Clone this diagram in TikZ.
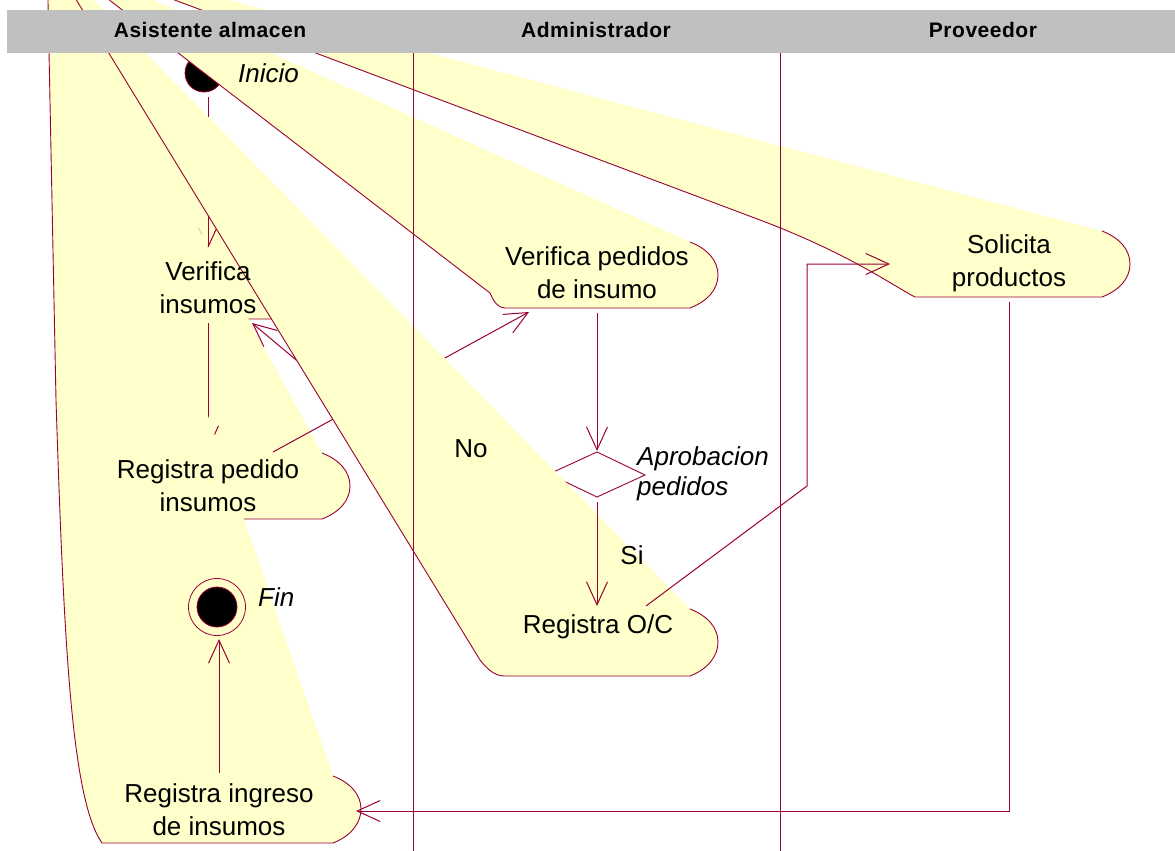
\documentclass[tikz,border=0pt]{standalone}
\usepackage{fontspec}
\setmainfont{Liberation Sans}
\newfontfamily\hdrfont[LetterSpace=2.5]{Liberation Sans}
\usetikzlibrary{arrows.meta}
\definecolor{rose}{HTML}{990033}
\definecolor{actfill}{HTML}{FFFFCC}
\definecolor{hdr}{HTML}{C0C0C0}
\begin{document}
\begin{tikzpicture}[x=1pt,y=-1pt,
  actfillst/.style={fill=actfill,draw=none},
  actline/.style={draw=rose,line width=0.9pt},
  conn/.style={draw=rose,line width=1pt},
  tip/.style={-{Straight Barb[length=23pt,width=21pt]}},
  lane/.style={draw=rose,line width=0.9pt},
  lbl/.style={font=\fontsize{26}{33}\selectfont,inner sep=0pt,anchor=base},
  ilbl/.style={font=\fontsize{26}{30}\selectfont\itshape,inner sep=0pt,anchor=base west},
  hlbl/.style={font=\hdrfont\bfseries\fontsize{21}{24}\selectfont,inner sep=0pt,anchor=base}]
\useasboundingbox (0,0) rectangle (1175,851);
\clip (0,0) rectangle (1175,851);
\coordinate (F) at (47,-48);

% ---- Verifica insumos (VI)
\path[actfillst] (F) -- (322,253) .. controls (340,260) and (350,272) .. (350,286) .. controls (350,300) and (340,312) .. (322,319) -- (94,319) .. controls (86,319) and (82,314) .. (79,308) -- cycle;
\draw[actline] (F) -- (79,308) .. controls (82,314) and (86,319) .. (94,319) -- (322,319) .. controls (340,312) and (350,300) .. (350,286) .. controls (350,272) and (340,260) .. (322,253);

% ---- Registra pedido insumos (RP)
\path[actfillst] (F) -- (322,453) .. controls (340,460) and (350,472) .. (350,486) .. controls (350,500) and (340,512) .. (322,519) -- (94,519) .. controls (86,519) and (82,514) .. (79,508) -- cycle;
\draw[actline] (F) -- (79,508) .. controls (82,514) and (86,519) .. (94,519) -- (322,519) .. controls (340,512) and (350,500) .. (350,486) .. controls (350,472) and (340,460) .. (322,453);

% ---- Inicio
\node[circle,fill=black,draw=rose,line width=0.8pt,minimum size=38pt,inner sep=0pt] (inicio) at (204,73) {};

% ---- Verifica pedidos de insumo (VP)
\path[actfillst] (F) -- (690,242) .. controls (708,249) and (718,261) .. (718,275) .. controls (718,289) and (708,301) .. (690,308) -- (505,308) .. controls (498,308) and (494,302) .. (490,293) -- cycle;
\draw[actline] (F) -- (490,293) .. controls (494,302) and (498,308) .. (505,308) -- (690,308) .. controls (708,301) and (718,289) .. (718,275) .. controls (718,261) and (708,249) .. (690,242);

% ---- connection points
\coordinate (iout) at (208,97);
\coordinate (viin) at (208,247);
\coordinate (viout) at (208,323);
\coordinate (rpin) at (208,450);
\coordinate (rpout) at (273,452);
\coordinate (vpin) at (529,312);
\coordinate (vpout) at (597,313);
\coordinate (decn) at (597,451);
\coordinate (decw) at (549,474);
\coordinate (decs) at (597,502);
\coordinate (nobend) at (332,390);
\coordinate (viback) at (252,323);
\coordinate (roin) at (597,606);
\coordinate (roout) at (646,606);
\coordinate (rob1) at (807,486);
\coordinate (rob2) at (807,264);
\coordinate (sin) at (890,264);
\coordinate (sout) at (1009,302);
\coordinate (sbend) at (1009,811);
\coordinate (riin) at (356,811);
\coordinate (riout) at (219,773);
\coordinate (finin) at (219,639);

% ---- early connectors
\draw[conn] (iout) -- (viin);
\draw[conn] (viin) -- ++(9,-19.5);
\draw[draw=rose!35,line width=0.6pt] (198,227) -- (202,235);
\draw[conn,tip] (viout) -- (rpin);
\draw[conn,tip] (rpout) -- (vpin);
\draw[conn,tip] (vpout) -- (decn);
\draw[conn,tip] (decw) -- (nobend) -- (viback);

% ---- decision
\draw[actline] (597,452) -- (645,475) -- (597,497) -- (549,474) -- cycle;

% ---- Registra O/C (RO)
\path[actfillst] (F) -- (690,609) .. controls (708,616) and (718,628) .. (718,642) .. controls (718,656) and (708,669) .. (690,676) -- (505,676) .. controls (495,676) and (488,670) .. (480,660) -- cycle;
\draw[actline] (F) -- (480,660) .. controls (488,670) and (495,676) .. (505,676) -- (690,676) .. controls (708,669) and (718,656) .. (718,642) .. controls (718,628) and (708,616) .. (690,609);

% ---- Registra ingreso de insumos (RI)
\path[actfillst] (F) -- (333,776) .. controls (351,783) and (361,795) .. (361,809) .. controls (361,823) and (351,836) .. (333,843) -- (102,843) .. controls (72,800) and (64,650) .. (56,400) -- cycle;
\draw[actline] (F) -- (56,400) .. controls (64,650) and (72,800) .. (102,843) -- (333,843) .. controls (351,836) and (361,823) .. (361,809) .. controls (361,795) and (351,783) .. (333,776);

% ---- Solicita productos (S)
\path[actfillst] (F) -- (1102,231) .. controls (1120,238) and (1130,250) .. (1130,264) .. controls (1130,278) and (1120,290) .. (1102,297) -- (915,297) .. controls (895,287) and (850,254) .. (760,220) -- cycle;
\draw[actline] (F) -- (760,220) .. controls (850,254) and (895,287) .. (915,297) -- (1102,297) .. controls (1120,290) and (1130,278) .. (1130,264) .. controls (1130,250) and (1120,238) .. (1102,231);

% ---- late connectors
\draw[conn,tip] (decs) -- (roin);
\draw[conn,tip] (roout) -- (rob1) -- (rob2) -- (sin);
\draw[conn,tip] (sout) -- (sbend) -- (riin);
\draw[conn,tip] (riout) -- (finin);

% ---- Fin
\node[circle,draw=rose,line width=0.8pt,minimum size=57pt,inner sep=0pt] (fin) at (217,607) {};
\node[circle,fill=black,draw=rose,line width=0.8pt,minimum size=40pt,inner sep=0pt] (fincore) at (217,607) {};

% ---- lanes and header
\draw[lane] (413,53) -- (413,851);
\draw[lane] (780,53) -- (780,851);
\fill[hdr] (7,10) rectangle (1175,53);
\node[hlbl] (h1) at (210,38) {Asistente almacen};
\node[hlbl] (h2) at (596,38) {Administrador};
\node[hlbl] (h3) at (983,38) {Proveedor};

% ---- texts
\node[lbl] (vitext) at (208,280) {\begin{tabular}[t]{@{}c@{}}Verifica\\insumos\end{tabular}};
\node[lbl] (rptext) at (208,478) {\begin{tabular}[t]{@{}c@{}}Registra pedido\\insumos\end{tabular}};
\node[lbl] (vptext) at (597,265) {\begin{tabular}[t]{@{}c@{}}Verifica pedidos\\de insumo\end{tabular}};
\node[lbl] (stext) at (1009,253) {\begin{tabular}[t]{@{}c@{}}Solicita\\productos\end{tabular}};
\node[lbl] (rotext) at (598,633) {Registra O/C};
\node[lbl] (ritext) at (219,802) {\begin{tabular}[t]{@{}c@{}}Registra ingreso\\de insumos\end{tabular}};
\node[lbl] (notext) at (471,457) {No};
\node[lbl] (sitext) at (632,564) {Si};
\node[ilbl] (initext) at (238,82) {Inicio};
\node[ilbl] (fintext) at (258,606) {Fin};
\node[ilbl] (dectext) at (637,465) {\begin{tabular}[t]{@{}l@{}}Aprobacion\\pedidos\end{tabular}};
\end{tikzpicture}
\end{document}
